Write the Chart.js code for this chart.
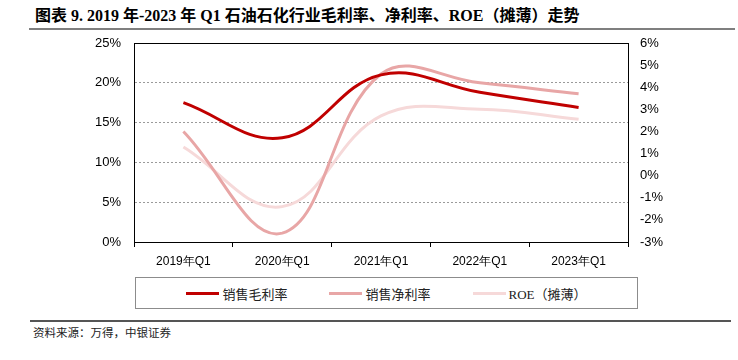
<!DOCTYPE html>
<html>
<head>
<meta charset="utf-8">
<script src="https://cdn.jsdelivr.net/npm/chart.js@4"></script>
<style>
  body { margin: 0; background: #fff; }
  #wrap { position: relative; width: 738px; height: 360px; overflow: hidden; }
  #title { position: absolute; left: 35px; top: 2px; font: bold 16px "Liberation Serif", "Noto Sans CJK SC"; color: #000; white-space: nowrap; }
  .rule { position: absolute; background: #7f7f7f; }
  #legend { position: absolute; left: 135px; top: 277px; width: 503px; height: 32px; border: 1px solid #8c8c8c;
            display: flex; justify-content: center; align-items: center; gap: 42px; box-sizing: border-box; }
  .item { display: flex; align-items: center; font: 13px "Liberation Serif", "Noto Sans CJK SC"; color: #222; }
  .swatch { width: 33px; height: 3px; margin-right: 3px; }
  #source { position: absolute; left: 33px; top: 324px; font: 11.5px "Liberation Serif", "Noto Sans CJK SC"; color: #222; }
  canvas { position: absolute; left: 0; top: 0; }
</style>
</head>
<body>
<div id="wrap">
  <div id="title">图表 9. 2019 年-2023 年 Q1 石油石化行业毛利率、净利率、ROE（摊薄）走势</div>
  <div class="rule" style="left:29px;top:28px;width:706px;height:2px;"></div>
  <canvas id="chart" width="738" height="275"></canvas>
  <div id="legend"></div>
  <div class="rule" style="left:30px;top:320px;width:701px;height:2px;background:#555;"></div>
  <div id="source">资料来源：万得，中银证券</div>
</div>
<script>
(() => {
    const categories = ['2019年Q1', '2020年Q1', '2021年Q1', '2022年Q1', '2023年Q1'];
    const seriesNames = ['销售毛利率', '销售净利率', 'ROE（摊薄）'];
    // left axis, %
    const grossMargin = [17.5, 13.1, 21.0, 18.8, 16.9];
    // right axis, %
    const netMargin = [2.0, -2.6, 4.6, 4.2, 3.7];
    const roe = [1.3, -1.4, 2.7, 3.0, 2.55];
    const colors = ['#c00000', '#e8a6a6', '#f6d9d9'];

    const ctx = document.getElementById('chart').getContext('2d');
    const tickFont = { family: 'Liberation Sans', size: 13 };

    // black frame round the plot area
    const frame = {
        id: 'frame',
        beforeDatasetsDraw(chart) {
            const a = chart.chartArea;
            const c = chart.ctx;
            c.save();
            c.strokeStyle = '#000';
            c.lineWidth = 1;
            c.strokeRect(Math.round(a.left) + 0.5, Math.round(a.top) + 0.5,
                Math.round(a.right - a.left), Math.round(a.bottom - a.top));
            c.restore();
        }
    };

    const chart = new Chart(ctx, {
        type: 'line',
        data: {
            labels: categories,
            datasets: [
                { label: seriesNames[0], data: grossMargin, yAxisID: 'y', borderColor: colors[0], backgroundColor: colors[0], order: 1 },
                { label: seriesNames[1], data: netMargin, yAxisID: 'y1', borderColor: colors[1], backgroundColor: colors[1], order: 2 },
                { label: seriesNames[2], data: roe, yAxisID: 'y1', borderColor: colors[2], backgroundColor: colors[2], order: 3 }
            ]
        },
        options: {
            responsive: false,
            animation: false,
            layout: { padding: { top: 43, left: 0, right: 0, bottom: 0 } },
            elements: {
                line: { borderWidth: 3, tension: 0.4, fill: false, borderCapStyle: 'butt' },
                point: { radius: 0 }
            },
            plugins: {
                legend: { display: false },
                tooltip: { enabled: false }
            },
            scales: {
                x: {
                    offset: true,
                    grid: { offset: true, drawOnChartArea: false, drawTicks: true, tickLength: 5, color: '#000' },
                    border: { display: true, color: '#000' },
                    ticks: { font: { family: 'Liberation Sans', size: 12 }, color: '#000', padding: 7, maxRotation: 0 },
                    afterFit: s => { s.height = 33; }
                },
                y: {
                    position: 'left',
                    min: 0, max: 25,
                    ticks: { stepSize: 5, font: tickFont, color: '#000', padding: 13, callback: v => v + '%' },
                    grid: { color: '#9a9a9a', drawTicks: false },
                    border: { display: true, color: '#000', dash: [2, 2] },
                    afterFit: s => { s.width = 134; }
                },
                y1: {
                    position: 'right',
                    min: -3, max: 6,
                    ticks: { stepSize: 1, font: tickFont, color: '#000', padding: 12, callback: v => v + '%' },
                    grid: { drawOnChartArea: false, drawTicks: false },
                    border: { display: true, color: '#000' },
                    afterFit: s => { s.width = 110; }
                }
            }
        },
        plugins: [frame]
    });

    // legend box below the chart
    const legend = document.getElementById('legend');
    chart.data.datasets.forEach(ds => {
        const item = document.createElement('div');
        item.className = 'item';
        item.innerHTML = '<span class="swatch" style="background:' + ds.borderColor + '"></span><span>' + ds.label + '</span>';
        legend.appendChild(item);
    });
})();
</script>
</body>
</html>
